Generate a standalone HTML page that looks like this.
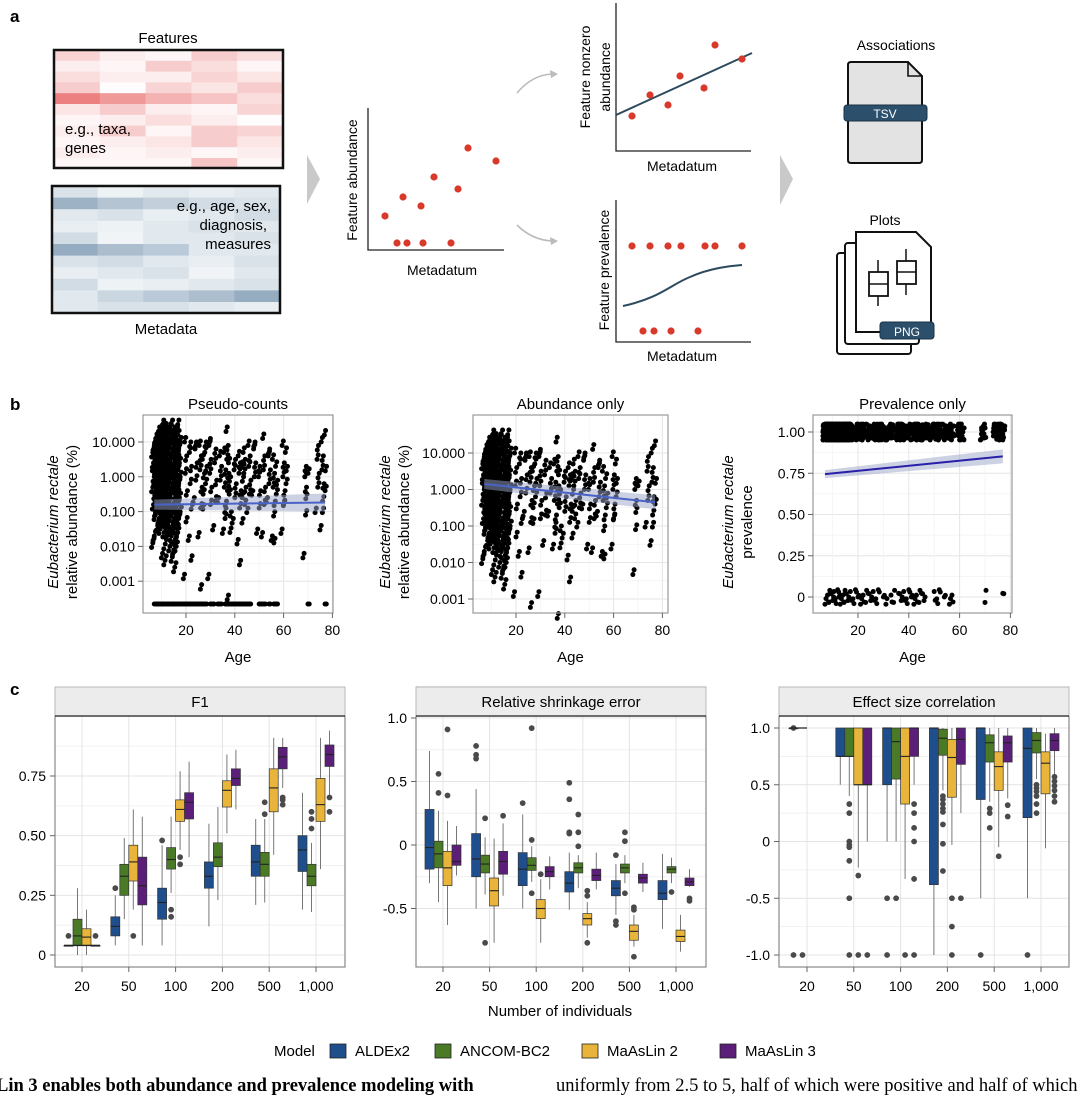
<!DOCTYPE html>
<html><head><meta charset="utf-8"><style>
html,body{margin:0;padding:0;background:#fff;}
svg{display:block;font-family:"Liberation Sans",sans-serif;}
</style></head><body>
<svg id="fig" width="1080" height="1100" viewBox="0 0 1080 1100" xmlns="http://www.w3.org/2000/svg">
<rect width="1080" height="1100" fill="#fff"/>
<!-- Panel a -->
<g>
<text x="10" y="22" font-size="17" font-weight="bold">a</text>
<text x="168" y="43" font-size="15" text-anchor="middle">Features</text>
<g id="featHeat"></g>
<rect x="54" y="50" width="229" height="118" fill="none" stroke="#111" stroke-width="2.5"/>
<text x="65" y="134" font-size="15">e.g., taxa,</text>
<text x="65" y="153" font-size="15">genes</text>
<g id="metaHeat"></g>
<rect x="52" y="186" width="228" height="127" fill="none" stroke="#111" stroke-width="2.5"/>
<text x="271" y="211" font-size="15" text-anchor="end">e.g., age, sex,</text>
<text x="267" y="230" font-size="15" text-anchor="end">diagnosis,</text>
<text x="271" y="249" font-size="15" text-anchor="end">measures</text>
<text x="166" y="334" font-size="15" text-anchor="middle">Metadata</text>
<polygon points="307,155 320,179 307,204" fill="#c9c9c9"/>
<g>
<path d="M368,108 V250 H504" fill="none" stroke="#222" stroke-width="1.3"/>
<text transform="translate(357,180) rotate(-90)" font-size="14" text-anchor="middle">Feature abundance</text>
<text x="442" y="275" font-size="14" text-anchor="middle">Metadatum</text>
<g fill="#d9392b">
<circle cx="385" cy="216" r="3.6"/><circle cx="403" cy="197" r="3.6"/><circle cx="421" cy="206" r="3.6"/><circle cx="434" cy="177" r="3.6"/><circle cx="458" cy="189" r="3.6"/><circle cx="468" cy="148" r="3.6"/><circle cx="496" cy="161" r="3.6"/>
<circle cx="397" cy="243" r="3.6"/><circle cx="407" cy="243" r="3.6"/><circle cx="423" cy="243" r="3.6"/><circle cx="451" cy="243" r="3.6"/>
</g></g>
<path d="M517,93 Q532,75 552,74" fill="none" stroke="#bbb" stroke-width="1.6"/>
<polygon points="558,74 550,70 551,78" fill="#bbb"/>
<path d="M517,225 Q532,240 552,241" fill="none" stroke="#bbb" stroke-width="1.6"/>
<polygon points="558,241 550,237 551,245" fill="#bbb"/>
<g>
<path d="M616,3 V151 H751" fill="none" stroke="#222" stroke-width="1.3"/>
<line x1="616" y1="115" x2="752" y2="53" stroke="#2c4a5e" stroke-width="2"/>
<text transform="translate(590,77) rotate(-90)" font-size="14" text-anchor="middle">Feature nonzero</text>
<text transform="translate(610,77) rotate(-90)" font-size="14" text-anchor="middle">abundance</text>
<text x="682" y="171" font-size="14" text-anchor="middle">Metadatum</text>
<g fill="#d9392b"><circle cx="632" cy="116" r="3.6"/><circle cx="650" cy="95" r="3.6"/><circle cx="668" cy="105" r="3.6"/><circle cx="680" cy="76" r="3.6"/><circle cx="704" cy="88" r="3.6"/><circle cx="715" cy="45" r="3.6"/><circle cx="742" cy="59" r="3.6"/></g>
</g>
<g>
<path d="M616,200 V342 H751" fill="none" stroke="#222" stroke-width="1.3"/>
<path d="M623,306 C660,298 670,285 690,277 C710,268 730,266 742,265" fill="none" stroke="#2c4a5e" stroke-width="2"/>
<text transform="translate(609,270) rotate(-90)" font-size="14" text-anchor="middle">Feature prevalence</text>
<text x="682" y="361" font-size="14" text-anchor="middle">Metadatum</text>
<g fill="#d9392b"><circle cx="632" cy="246" r="3.6"/><circle cx="650" cy="246" r="3.6"/><circle cx="668" cy="246" r="3.6"/><circle cx="681" cy="246" r="3.6"/><circle cx="705" cy="246" r="3.6"/><circle cx="715" cy="246" r="3.6"/><circle cx="742" cy="246" r="3.6"/>
<circle cx="643" cy="331" r="3.6"/><circle cx="654" cy="331" r="3.6"/><circle cx="671" cy="331" r="3.6"/><circle cx="698" cy="331" r="3.6"/></g>
</g>
<polygon points="780,155 793,179 780,205" fill="#c9c9c9"/>
<text x="896" y="50" font-size="14" text-anchor="middle">Associations</text>
<g>
<path d="M851,62 H908 L922,76 V160 Q922,163 919,163 H851 Q848,163 848,160 V65 Q848,62 851,62 Z" fill="#e3e3e3" stroke="#111" stroke-width="2"/>
<path d="M908,62 V76 H922" fill="none" stroke="#111" stroke-width="1.6"/>
<rect x="844" y="105" width="83" height="16" rx="3" fill="#2c4f6b" stroke="#1a3346" stroke-width="1"/>
<text x="885" y="118" font-size="12" fill="#fff" text-anchor="middle">TSV</text>
</g>
<text x="885" y="225" font-size="14" text-anchor="middle">Plots</text>
<g fill="#fff" stroke="#111" stroke-width="2">
<rect x="837" y="253" width="74" height="101" rx="3"/>
<rect x="845" y="243" width="74" height="101" rx="3"/>
<path d="M856,232 H916 L931,247 V332 H856 Z"/>
<rect x="869" y="272" width="19" height="24" stroke-width="1.8"/><line x1="869" y1="284" x2="888" y2="284" stroke-width="1.5"/><line x1="878" y1="260" x2="878" y2="272" stroke-width="1.5"/><line x1="878" y1="296" x2="878" y2="306" stroke-width="1.5"/>
<rect x="897" y="261" width="19" height="23" stroke-width="1.8"/><line x1="897" y1="272" x2="916" y2="272" stroke-width="1.5"/><line x1="906" y1="249" x2="906" y2="261" stroke-width="1.5"/><line x1="906" y1="284" x2="906" y2="295" stroke-width="1.5"/>
<rect x="880" y="322" width="54" height="17" rx="3" fill="#2c4f6b" stroke="#1a3346" stroke-width="1"/>
<text x="907" y="336" font-size="12" fill="#fff" stroke="none" text-anchor="middle">PNG</text>
</g>
</g>
<text x="10" y="410" font-size="17" font-weight="bold">b</text>
<g id="panelB"></g>
<text x="10" y="695" font-size="17" font-weight="bold">c</text>
<g id="panelC"></g>
<text x="560" y="1016" font-size="15" text-anchor="middle">Number of individuals</text>
<g font-size="15">
<text x="274" y="1056">Model</text>
<g><rect x="330" y="1044" width="16" height="14" fill="#1f4e8c" stroke="#222" stroke-width="0.8"/><text x="355" y="1056">ALDEx2</text></g>
<g><rect x="435" y="1044" width="16" height="14" fill="#4a7a26" stroke="#222" stroke-width="0.8"/><text x="460" y="1056">ANCOM-BC2</text></g>
<g><rect x="582" y="1044" width="16" height="14" fill="#e8b53a" stroke="#222" stroke-width="0.8"/><text x="607" y="1056">MaAsLin 2</text></g>
<g><rect x="720" y="1044" width="16" height="14" fill="#5b1f7a" stroke="#222" stroke-width="0.8"/><text x="745" y="1056">MaAsLin 3</text></g>
</g>
<text x="-4" y="1091" font-size="18.5" font-weight="bold" font-family="Liberation Serif, serif">Lin 3 enables both abundance and prevalence modeling with</text>
<text x="556" y="1091" font-size="18.5" font-family="Liberation Serif, serif">uniformly from 2.5 to 5, half of which were positive and half of which w</text>
</svg>
<script>
const NS="http://www.w3.org/2000/svg";
function mk(tag,attrs,parent){const e=document.createElementNS(NS,tag);for(const k in attrs)e.setAttribute(k,attrs[k]);if(parent)parent.appendChild(e);return e;}

// ---------- Panel a heatmaps ----------
const featShades=[[.25,.1,.05,.3,.2],[.1,.05,.3,.2,.05],[.2,.1,.1,.25,.15],[.3,.02,.25,.15,.3],[.75,.6,.45,.35,.2],[.15,.3,.1,.05,.25],[.05,.1,.2,.1,.02],[.1,.3,.05,.3,.25],[.05,.1,.15,.3,.15],[.1,.05,.1,.05,.1],[.05,.05,.05,.35,.05]];
const metaShades=[[.15,.02,.1,.05,.1],[.55,.4,.3,.2,.15],[.1,.15,.05,.1,.2],[.05,.02,.1,.15,.1],[.2,.0,.1,.1,.15],[.6,.45,.35,.1,.1],[.15,.2,.1,.05,.15],[.05,.1,.15,.0,.1],[.2,.02,.05,.1,.15],[.1,.25,.35,.45,.6],[.1,.15,.15,.1,.05]];
(function(){
  const fg=document.getElementById('featHeat');
  featShades.forEach((row,r)=>row.forEach((v,c)=>{
    const el=mk('rect',{x:54+c*45.8,y:50+r*10.8,width:46.3,height:11.3,fill:`rgb(${255-Math.round(25*v)},${255-Math.round(170*v)},${255-Math.round(170*v)})`},fg);
    
    
  }));
  const mg=document.getElementById('metaHeat');
  metaShades.forEach((row,r)=>row.forEach((v,c)=>{
    const el=mk('rect',{x:52+c*45.6,y:186+r*11.6,width:46,height:12,fill:`rgb(${240-Math.round(150*v)},${244-Math.round(120*v)},${247-Math.round(90*v)})`},mg);
    
    
  }));
})();

// ---------- Panel b data ----------
const sampleAges=[7,8,9,10,11,12,13,14,15,16,17,20,22,24,26,27,28,30,32,34,36,37,38,40,42,43,44,46,48,50,52,54,56,57,60,61,69,70,74,76,77];
const sampleLogAbund=[
[-1.9,-1.7,-1,-0.8,-0.5,-0.3,0,0.2,0.3,0.5,0.7,0.9,1.1,0.4,-0.1],
[-1.1,-0.9,-0.6,-0.4,-0.2,0,0.1,0.3,0.5,0.6,0.8,1,1.2,-0.7,0.2],
[-1.4,-1.2,-0.9,-0.7,-0.5,-0.3,-0.1,0.1,0.3,0.5,0.7,0.9,1.1,1.3,0.4,0.0],
[-1.5,-1.3,-1.0,-0.8,-0.6,-0.4,-0.2,0,0.2,0.4,0.6,0.8,1.0,1.2,1.4,0.5,-0.1],
[-2.2,-1.6,-1.3,-1.1,-0.8,-0.5,-0.3,-0.1,0.1,0.3,0.5,0.7,0.9,1.1,1.3,1.5,0.6],
[-2.4,-1.8,-1.4,-1.2,-0.9,-0.7,-0.4,-0.2,0,0.2,0.4,0.6,0.8,1.0,1.2,1.4,0.3],
[-1.6,-1.2,-1.0,-0.8,-0.5,-0.3,-0.1,0.1,0.3,0.5,0.7,0.9,1.1,1.3,0.2,0.8],
[-2.0,-1.7,-1.4,-1.1,-0.9,-0.6,-0.4,-0.2,0,0.2,0.4,0.6,0.8,1.0,1.2,1.4,1.5],
[-2.3,-2.1,-1.8,-1.5,-1.2,-1.0,-0.8,-0.5,-0.3,-0.1,0.1,0.3,0.5,0.7,0.9,1.1,1.3],
[-2.6,-2.0,-1.6,-1.3,-1.1,-0.9,-0.7,-0.5,-0.3,-0.1,0.1,0.3,0.5,0.7,0.9,1.1,1.3,1.5],
[-1.5,-1.2,-1.0,-0.8,-0.6,-0.4,-0.2,0,0.2,0.4,0.6,0.8,1.0,1.2],
[-2.8,-1.3,-0.4,0.1,0.6,1.0],
[-1.7,-2.4,-0.8,-0.2,0.3,0.7,1.0],
[-0.6,-0.1,0.4,0.8,1.0],
[-1.6,-0.9,-0.3,0.2,0.6,0.9],
[-3.1,-0.5,0.1,0.5],
[-0.8,-0.2,0.3,0.7,1.0],
[-2.8,-0.8,-0.3,0.1,0.5,0.9,1.1],
[-1.4,-0.7,-0.1,0.4,0.8],
[-0.6,-0.1,0.3,0.6],
[-1.5,-1.2,-0.7,-0.3,0.2,0.7],
[-0.9,-0.4,0.1,0.5,0.9,1.3],
[-3.4,-1.6,-1.0,-0.5,0,0.4],
[-1.2,-0.6,-0.2,0.2,0.5],
[-1.8,-0.9,-0.4,0.1,0.4,0.6],
[-2.4,-0.6,0,0.3],
[-1.2,-0.8,-0.3,0.1,0.5,0.7],
[-0.9,-0.5,-0.1,0.3,0.6,0.9],
[-0.4,0,0.4,0.8,1.0],
[-1.5,-0.9,-0.4,0,0.3],
[-1.6,-0.8,-0.3,0.2,0.6,1.1],
[-0.6,-0.2,0.2,0.6,0.8],
[-1.7,-1.9,-0.7,-0.3,0.1,0.5],
[-1,-0.5,-0.1,0.3],
[-1.5,-0.8,-0.4,0,0.4,0.9],
[-0.7,-0.2,0.3,0.7],
[-2.2,-1.1,-0.5,0,0.3],
[-0.3,0.1],
[-0.9,-0.3,0.1,0.5,0.9],
[-1.4,-0.7,-0.2,0.2,0.6,1.0],
[-0.9,-0.4,0.3,1.2]];
const zeroAges=[7,8,8.5,9,10,10.5,11,12,12.5,13,14,14.5,15,16,17,18,19,20,21,22,23,24,25,26,27,28,30,31,33,34,36,37,38,39,40,41,42,43,44,45,46,50,51,52,54,56,57,70,77];
const yTicksLog=[1,0,-1,-2,-3];
const yTickLogLabels=["10.000","1.000","0.100","0.010","0.001"];
const xTicksAge=[20,40,60,80];
const prevTicks=[1,0.75,0.5,0.25,0];
const prevTickLabels=["1.00","0.75","0.50","0.25","0"];
const fitPseudo=[[7,-0.8],[77,-0.74]];
const fitAbund=[[7,0.15],[77,-0.35]];
const fitPrev=[[7,0.745],[77,0.852]];

(function(){
  const root=document.getElementById('panelB');
  function scatterPanel(o){
    const g=mk('g',{},root);
    
    
    const xS=a=>o.x20+(a-20)*o.perYear;
    mk('rect',{x:o.L,y:o.T,width:o.R-o.L,height:o.B-o.T,fill:'#fff'},g);
    o.ticks.forEach((t,i)=>{mk('line',{x1:o.L,x2:o.R,y1:o.yS(t),y2:o.yS(t),stroke:'#e6e6e6','stroke-width':1},g);
      if(i<o.ticks.length-1){const m=o.yS((t+o.ticks[i+1])/2);mk('line',{x1:o.L,x2:o.R,y1:m,y2:m,stroke:'#f2f2f2','stroke-width':0.7},g);}});
    xTicksAge.forEach(a=>{if(xS(a)<=o.R)mk('line',{x1:xS(a),x2:xS(a),y1:o.T,y2:o.B,stroke:'#e6e6e6','stroke-width':1},g);
      const m=xS(a-10);mk('line',{x1:m,x2:m,y1:o.T,y2:o.B,stroke:'#f2f2f2','stroke-width':0.7},g);});
    const pts=mk('g',{fill:'#000'},g);
    
    
    o.points.forEach(p=>{mk('circle',{cx:xS(p[0]),cy:p[1],r:2.5},pts);});
    const f=o.fit;
    const x1=xS(f[0][0]),x2=xS(f[1][0]),y1=o.yS(f[0][1]),y2=o.yS(f[1][1]);
    const band=mk('polygon',{points:`${x1},${y1-o.band[0]} ${x2},${y2-o.band[1]} ${x2},${y2+o.band[1]} ${x1},${y1+o.band[0]}`,fill:'#9aa6c8','fill-opacity':0.5},g);
    
    
    const ln=mk('line',{x1,y1,x2,y2,stroke:o.lineColor,'stroke-width':2},g);
    
    
    mk('rect',{x:o.L,y:o.T,width:o.R-o.L,height:o.B-o.T,fill:'none',stroke:'#999','stroke-width':1.2},g);
    o.ticks.forEach((t,i)=>{const y=o.yS(t);mk('line',{x1:o.L-5,x2:o.L,y1:y,y2:y,stroke:'#666'},g);
      const tx=mk('text',{x:o.L-8,y:y+5,'font-size':14,'text-anchor':'end'},g);tx.textContent=o.labels[i];
      
      });
    xTicksAge.forEach(a=>{const x=xS(a);if(x>o.R+3)return;mk('line',{x1:x,x2:x,y1:o.B,y2:o.B+5,stroke:'#666'},g);
      const tx=mk('text',{x:x,y:o.B+22,'font-size':14,'text-anchor':'middle'},g);tx.textContent=a;
      
      });
    const xt=mk('text',{x:(o.L+o.R)/2,y:o.B+49,'font-size':15,'text-anchor':'middle'},g);xt.textContent='Age';
    
    
    const tt=mk('text',{x:(o.L+o.R)/2,y:o.T-6,'font-size':15,'text-anchor':'middle'},g);tt.textContent=o.title;
    
    
    const yl=mk('text',{transform:`translate(${o.ylx},${(o.T+o.B)/2+8}) rotate(-90)`,'font-size':15,'text-anchor':'middle'},g);
    yl.innerHTML='<tspan font-style="italic">Eubacterium rectale</tspan>';
    
    
    const yl2=mk('text',{transform:`translate(${o.ylx+19},${(o.T+o.B)/2+8}) rotate(-90)`,'font-size':15,'text-anchor':'middle'},g);
    yl2.textContent=o.ylabel2;
    
    
  }
  const jit=[[0,0],[0.5,0.13],[-0.5,-0.13]];
  function densePts(yS){
    const p=[];
    sampleAges.forEach((a,i)=>sampleLogAbund[i].forEach((v,j)=>jit.forEach((d,k)=>{
      if(k>0 && i>=11 && (j+k)%2) return;
      p.push([a+((j*7)%5-2)*0.3+d[0],yS(v+d[1])]);
    })));
    return p;
  }
  const ys1=v=>442-(v-1)*34.8;
  const p1=densePts(ys1);
  zeroAges.forEach(a=>{p1.push([a,604]);p1.push([a+0.5,604]);});
  scatterPanel({name:'pseudo-counts-plot',L:143,R:333,T:415,B:613,x20:186,perYear:2.44,yS:ys1,ticks:yTicksLog,labels:yTickLogLabels,points:p1,fit:fitPseudo,band:[5,9],lineColor:'#4a63c9',title:'Pseudo-counts',ylx:58,ylabel2:'relative abundance (%)'});
  const ys2=v=>453-(v-1)*36.5;
  const p2=densePts(ys2);
  scatterPanel({name:'abundance-only-plot',L:473,R:668,T:415,B:613,x20:516,perYear:2.44,yS:ys2,ticks:yTicksLog,labels:yTickLogLabels,points:p2,fit:fitAbund,band:[5,7],lineColor:'#4a63c9',title:'Abundance only',ylx:390,ylabel2:'relative abundance (%)'});
  const ys3=v=>597-v*165;
  const p3=[];
  sampleAges.forEach((a,i)=>sampleLogAbund[i].forEach((v,j)=>{p3.push([a+((j*7)%5-2)*0.35,ys3(1+((j*5+i)%9-4)*0.012)]);p3.push([a+((j*3)%5-2)*0.3,ys3(1+((j*7+i*3)%9-4)*0.011)]);p3.push([a+((j*2)%5-2)*0.4,ys3(1+((j*4+i*2)%9-4)*0.012)]);}));
  zeroAges.forEach((a,i)=>{p3.push([a,ys3(((i*5)%9-4)*0.011)]);p3.push([a+0.4,ys3(((i*7+3)%9-4)*0.01)]);});
  scatterPanel({name:'prevalence-only-plot',L:813,R:1012,T:415,B:613,x20:858,perYear:2.54,yS:ys3,ticks:prevTicks,labels:prevTickLabels,points:p3,fit:fitPrev,band:[4,7],lineColor:'#2a1fa8',title:'Prevalence only',ylx:733,ylabel2:'prevalence'});
})();

// ---------- Panel c data ----------
const sizeLabels=["20","50","100","200","500","1,000"];
const modelNames=["ALDEx2","ANCOM-BC2","MaAsLin 2","MaAsLin 3"];
const f1Aldex=[[0.04,0.04,0.04,0.04,0.04],[0.04,0.08,0.12,0.16,0.25],[0.04,0.15,0.22,0.28,0.46],[0.12,0.28,0.33,0.39,0.55],[0.21,0.33,0.39,0.46,0.57],[0.19,0.35,0.44,0.50,0.68]];
const f1Ancom=[[0,0.04,0.08,0.15,0.28],[0.15,0.25,0.33,0.38,0.49],[0.26,0.36,0.40,0.45,0.58],[0.23,0.37,0.41,0.47,0.62],[0.22,0.33,0.38,0.43,0.57],[0.18,0.29,0.33,0.38,0.47]];
const f1Maas2=[[0,0.04,0.075,0.11,0.19],[0.19,0.31,0.39,0.46,0.61],[0.44,0.56,0.61,0.65,0.77],[0.51,0.62,0.69,0.73,0.84],[0.42,0.60,0.70,0.78,0.91],[0.36,0.56,0.63,0.74,0.91]];
const f1Maas3=[[0.04,0.04,0.04,0.04,0.04],[0.04,0.21,0.29,0.41,0.58],[0.41,0.57,0.64,0.68,0.81],[0.61,0.71,0.74,0.78,0.86],[0.70,0.78,0.83,0.87,0.91],[0.66,0.79,0.84,0.88,0.94]];
const f1Out=[[[0.08],[],[],[0.08]],[[0.28],[],[0.08],[]],[[0.48],[0.19,0.16],[0.41,0.38],[]],[[],[],[],[]],[[],[0.64,0.59],[],[0.66,0.65,0.63]],[[],[0.60,0.57,0.53],[],[0.66,0.60]]];
const rseAldex=[[-0.3,-0.19,-0.02,0.28,0.74],[-0.5,-0.25,-0.11,0.09,0.44],[-0.5,-0.32,-0.19,-0.06,0.24],[-0.51,-0.37,-0.30,-0.21,-0.06],[-0.55,-0.40,-0.34,-0.28,-0.15],[-0.66,-0.43,-0.38,-0.28,-0.07]];
const rseAncom=[[-0.45,-0.18,-0.07,0.03,0.27],[-0.39,-0.22,-0.15,-0.08,0.06],[-0.29,-0.20,-0.16,-0.10,-0.01],[-0.34,-0.22,-0.18,-0.14,-0.08],[-0.30,-0.22,-0.18,-0.15,-0.08],[-0.30,-0.22,-0.19,-0.17,-0.10]];
const rseMaas2=[[-0.63,-0.32,-0.18,-0.05,0.19],[-0.77,-0.48,-0.36,-0.26,0.05],[-0.77,-0.58,-0.50,-0.43,-0.27],[-0.73,-0.63,-0.58,-0.54,-0.45],[-0.80,-0.75,-0.68,-0.63,-0.55],[-0.84,-0.76,-0.72,-0.67,-0.55]];
const rseMaas3=[[-0.24,-0.16,-0.13,0,0.15],[-0.40,-0.23,-0.13,-0.05,0.17],[-0.35,-0.25,-0.21,-0.17,-0.09],[-0.35,-0.28,-0.24,-0.19,-0.06],[-0.37,-0.30,-0.26,-0.23,-0.14],[-0.33,-0.32,-0.29,-0.26,-0.19]];
const rseOut=[[[],[0.56,0.41],[0.91,0.39],[]],[[0.78,0.71,0.68],[0.21,-0.77],[],[0.23]],[[0.33],[0.92,0.04,-0.38],[-0.23],[]],[[0.49,0.36,0.10,0.09],[0.24,0.10,-0.01],[-0.36,-0.40,-0.77],[]],[[-0.08,-0.60,-0.63],[0.10,0.03,-0.38],[-0.49,-0.51,-0.88],[]],[[],[-0.37],[],[-0.42,-0.44]]];
const escAldex=[[1,1,1,1,1],[0.5,0.75,0.75,1,1],[0,0.5,1,1,1],[-1,-0.38,1,1,1],[-0.5,0.37,1,1,1],[-0.5,0.21,0.82,1,1]];
const escAncom=[null,[0.4,0.75,0.75,1,1],[0,0.55,0.88,1,1],[0.45,0.76,0.91,0.99,1],[0.35,0.70,0.87,0.94,1],[0.55,0.78,0.89,0.96,1]];
const escMaas2=[null,[-0.23,0.5,0.5,1,1],[-0.33,0.33,0.75,1,1],[-0.03,0.39,0.74,0.90,1],[-0.05,0.45,0.66,0.79,1],[-0.06,0.42,0.69,0.79,0.95]];
const escMaas3=[null,[0,0.5,0.5,1,1],[0.5,0.75,1,1,1],[0.25,0.68,0.90,1,1],[0.38,0.70,0.87,0.93,1],[0.5,0.80,0.89,0.95,1]];
const escOut=[[[1,-1],[-1],[],[]],[[],[0.33,0.25,0,-0.03,-0.05,-0.17,-0.5,-1],[-0.3,-1],[-1]],[[-0.5,-1],[-0.5],[-1],[0.33,0.25,0.12,0,-0.33,-1]],[[],[0.4,0.37,0.33,0.29,0.26,0.15,-0.02,-0.26],[-0.5,-0.75,-1],[-0.5]],[[-1],[0.29,0.25,0.12],[-0.13],[0.32,0.22]],[[-1],[0.5,0.47,0.44,0.4,0.33,0.25],[],[0.57,0.53,0.49,0.45,0.4,0.35]]];
const f1Ticks=[0,0.25,0.5,0.75];const f1TickLabels=["0","0.25","0.50","0.75"];
const rseTicks=[-0.5,0,0.5,1];const rseTickLabels=["-0.5","0","0.5","1.0"];
const escTicks=[-1,-0.5,0,0.5,1];const escTickLabels=["-1.0","-0.5","0","0.5","1.0"];
const modelColors=["#1f4e8c","#4a7a26","#e8b53a","#5b1f7a"];
const modelKeys=["aldex2","ancombc2","maaslin2","maaslin3"];

(function(){
  const root=document.getElementById('panelC');
  function boxPanel(o){
    const g=mk('g',{},root);
    
    
    const yS=v=>o.y0+(v-o.v0)*(o.y1-o.y0)/(o.v1-o.v0);
    const xS=i=>o.xFirst+i*o.xStep;
    mk('rect',{x:o.L,y:716,width:o.R-o.L,height:967-716,fill:'#fff'},g);
    o.ticks.forEach((t,i)=>{mk('line',{x1:o.L,x2:o.R,y1:yS(t),y2:yS(t),stroke:'#e4e4e4'},g);
      if(i<o.ticks.length-1){const m=yS((t+o.ticks[i+1])/2);mk('line',{x1:o.L,x2:o.R,y1:m,y2:m,stroke:'#f1f1f1'},g);}});
    const mt=yS(o.ticks[o.ticks.length-1]+(o.ticks[1]-o.ticks[0])/2);mk('line',{x1:o.L,x2:o.R,y1:mt,y2:mt,stroke:'#f1f1f1'},g);
    sizeLabels.forEach((s,i)=>mk('line',{x1:xS(i),x2:xS(i),y1:716,y2:967,stroke:'#e4e4e4'},g));
    const series=o.series;
    sizeLabels.forEach((s,i)=>{
      series.forEach((ser,m)=>{
        const cx=xS(i)+(m-1.5)*9;
        const d=ser[i];
        const bg=mk('g',{},g);
        
        
        if(d){
          mk('line',{x1:cx,x2:cx,y1:yS(d[0]),y2:yS(d[4]),stroke:'#777','stroke-width':1},bg);
          const top=yS(d[3]),bot=yS(d[1]);
          mk('rect',{x:cx-4.5,y:Math.min(top,bot),width:9,height:Math.max(Math.abs(bot-top),0.8),fill:modelColors[m],stroke:'#333','stroke-width':0.7},bg);
          mk('line',{x1:cx-4.5,x2:cx+4.5,y1:yS(d[2]),y2:yS(d[2]),stroke:'#222','stroke-width':1.1},bg);
        }
        o.out[i][m].forEach(v=>{const c=mk('circle',{cx:cx,cy:yS(v),r:2.9,fill:'#4a4a4a'},bg);
          
          });
      });
    });
    if(o.flat){mk('line',{x1:o.flat[0],x2:o.flat[1],y1:yS(o.flat[2]),y2:yS(o.flat[2]),stroke:'#222','stroke-width':1.3},g);}
    mk('rect',{x:o.L,y:716,width:o.R-o.L,height:967-716,fill:'none',stroke:'#888','stroke-width':1.2},g);
    const strip=mk('rect',{x:o.L,y:687,width:o.R-o.L,height:29,fill:'#ececec',stroke:'#aaa','stroke-width':0.8},g);
    
    
    mk('line',{x1:o.L,x2:o.R,y1:716,y2:716,stroke:'#222','stroke-width':1.3},g);
    const st=mk('text',{x:(o.L+o.R)/2,y:707,'font-size':15,'text-anchor':'middle'},g);st.textContent=o.title;
    
    
    o.ticks.forEach((t,i)=>{const y=yS(t);mk('line',{x1:o.L-5,x2:o.L,y1:y,y2:y,stroke:'#666'},g);
      const tx=mk('text',{x:o.L-9,y:y+5,'font-size':14,'text-anchor':'end'},g);tx.textContent=o.labels[i];
      
      });
    sizeLabels.forEach((s,i)=>{mk('line',{x1:xS(i),x2:xS(i),y1:967,y2:972,stroke:'#666'},g);
      const tx=mk('text',{x:xS(i),y:991,'font-size':14,'text-anchor':'middle'},g);tx.textContent=s;
      
      });
  }
  boxPanel({name:'f1-plot',title:'F1',L:55,R:345,xFirst:82,xStep:46.8,v0:0,v1:0.75,y0:955,y1:776,ticks:f1Ticks,labels:f1TickLabels,series:[f1Aldex,f1Ancom,f1Maas2,f1Maas3],out:f1Out,flat:[64,100,0.04]});
  boxPanel({name:'relative-shrinkage-error-plot',title:'Relative shrinkage error',L:416,R:706,xFirst:443,xStep:46.6,v0:0,v1:1,y0:845,y1:718,ticks:rseTicks,labels:rseTickLabels,series:[rseAldex,rseAncom,rseMaas2,rseMaas3],out:rseOut});
  boxPanel({name:'effect-size-correlation-plot',title:'Effect size correlation',L:779,R:1069,xFirst:807,xStep:46.8,v0:-1,v1:1,y0:955,y1:728,ticks:escTicks,labels:escTickLabels,series:[escAldex,escAncom,escMaas2,escMaas3],out:escOut,flat:[790,807,1]});
})();
</script>
</body></html>
